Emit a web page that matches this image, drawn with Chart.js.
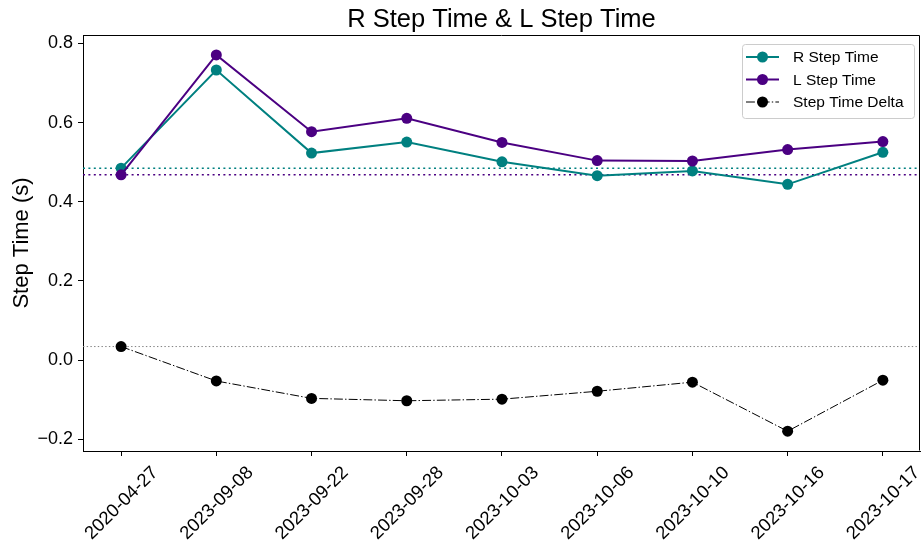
<!DOCTYPE html>
<html>
<head>
<meta charset="utf-8">
<script src="https://cdn.jsdelivr.net/npm/chart.js@4/dist/chart.umd.min.js"></script>
<style>
html,body{margin:0;padding:0;background:#fff;}
#wrap{width:922px;height:544px;}
</style>
</head>
<body>
<div id="wrap"><canvas id="c" width="922" height="544"></canvas></div>
<script>
// ---- data ----
const chartTitle = "R Step Time & L Step Time";
const dates = ["2020-04-27","2023-09-08","2023-09-22","2023-09-28","2023-10-03","2023-10-06","2023-10-10","2023-10-16","2023-10-17"];
const rStepTime = [0.485, 0.733, 0.523, 0.551, 0.501, 0.466, 0.478, 0.444, 0.525];
const lStepTime = [0.468, 0.771, 0.577, 0.611, 0.550, 0.504, 0.503, 0.532, 0.552];
const stepTimeDelta = [0.034, -0.053, -0.097, -0.103, -0.099, -0.079, -0.056, -0.180, -0.051];
const rBaseline = 0.485;
const lBaseline = 0.468;
const deltaBaseline = 0.034;
const yTicks = [-0.2, 0.0, 0.2, 0.4, 0.6, 0.8];
const yRange = [-0.230, 0.8215];
const xRange = [-0.4, 8.39];

const TEAL = "#008080", INDIGO = "#4b0082", BLACK = "#000000";
const FONT = "'Liberation Sans', Arial, Helvetica, sans-serif";
const DASHDOT = [8.9, 2.2, 1.4, 2.2];

Chart.defaults.font.family = FONT;
Chart.defaults.color = "#000";

const toXY = arr => arr.map((v, i) => ({x: i, y: v}));

const refLines = {
  id: "refLines",
  beforeDatasetsDraw(chart) {
    const {ctx, chartArea: a, scales: {y}} = chart;
    const lines = [
      {v: rBaseline, c: TEAL, w: 1.5, d: [2, 3.4]},
      {v: lBaseline, c: INDIGO, w: 1.5, d: [2, 3.4]},
      {v: deltaBaseline, c: "#808080", w: 1, d: [1.4, 2.3]}
    ];
    ctx.save();
    for (const l of lines) {
      const py = y.getPixelForValue(l.v);
      ctx.beginPath();
      ctx.setLineDash(l.d);
      ctx.strokeStyle = l.c;
      ctx.lineWidth = l.w;
      ctx.moveTo(a.left, py);
      ctx.lineTo(a.right, py);
      ctx.stroke();
    }
    ctx.restore();
  }
};

const frameTitleLegend = {
  id: "frameTitleLegend",
  afterDraw(chart) {
    const {ctx, chartArea: a} = chart;
    ctx.save();
    ctx.strokeStyle = "#000";
    ctx.lineWidth = 1;
    ctx.setLineDash([]);
    const L = Math.round(a.left) + 0.5, R = Math.round(a.right) - 0.5;
    const T = Math.round(a.top) + 0.5, B = Math.round(a.bottom) - 0.5;
    ctx.beginPath();
    ctx.moveTo(L, T); ctx.lineTo(R, T); ctx.lineTo(R, B);
    ctx.stroke();

    // title centred over the plot area
    ctx.font = "25.5px " + FONT;
    ctx.fillStyle = "#000";
    ctx.textAlign = "center";
    ctx.textBaseline = "alphabetic";
    ctx.fillText(chartTitle, (a.left + a.right) / 2, a.top - 8);

    // legend
    const w = 172, h = 74;
    const bx = a.right - 6 - w, by = a.top + 9;
    ctx.beginPath();
    ctx.roundRect(bx + 0.5, by + 0.5, w, h, 3);
    ctx.fillStyle = "rgba(255,255,255,0.8)";
    ctx.fill();
    ctx.strokeStyle = "#cccccc";
    ctx.stroke();
    ctx.font = "15.5px " + FONT;
    ctx.textBaseline = "middle";
    ctx.textAlign = "left";
    chart.data.datasets.forEach((ds, i) => {
      const ry = by + 13 + i * 22.5;
      const x0 = bx + 4, x1 = bx + 37, xm = (x0 + x1) / 2;
      ctx.beginPath();
      ctx.setLineDash(ds.borderDash || []);
      ctx.strokeStyle = ds.borderColor;
      ctx.lineWidth = ds.borderWidth;
      ctx.moveTo(x0, ry); ctx.lineTo(x1, ry);
      ctx.stroke();
      ctx.setLineDash([]);
      ctx.beginPath();
      ctx.arc(xm, ry, ds.pointRadius, 0, Math.PI * 2);
      ctx.fillStyle = ds.pointBackgroundColor;
      ctx.fill();
      ctx.fillStyle = "#000";
      ctx.fillText(ds.label, bx + 51, ry + 1);
    });
    ctx.restore();
  }
};

new Chart(document.getElementById("c"), {
  type: "line",
  data: {
    datasets: [
      {label: "R Step Time", data: toXY(rStepTime), borderColor: TEAL, backgroundColor: TEAL,
       pointBackgroundColor: TEAL, pointBorderColor: TEAL, borderWidth: 2, pointRadius: 5.5, pointBorderWidth: 0, order: 3},
      {label: "L Step Time", data: toXY(lStepTime), borderColor: INDIGO, backgroundColor: INDIGO,
       pointBackgroundColor: INDIGO, pointBorderColor: INDIGO, borderWidth: 2, pointRadius: 5.5, pointBorderWidth: 0, order: 2},
      {label: "Step Time Delta", data: toXY(stepTimeDelta), borderColor: BLACK, backgroundColor: BLACK,
       pointBackgroundColor: BLACK, pointBorderColor: BLACK, borderWidth: 1, borderDash: DASHDOT, pointRadius: 5.5, pointBorderWidth: 0, order: 1}
    ]
  },
  options: {
    responsive: false,
    animation: false,
    devicePixelRatio: 1,
    layout: {autoPadding: false, padding: {left: 0, right: 2, top: 35, bottom: 0}},
    plugins: {
      legend: {display: false},
      tooltip: {enabled: false},
      title: {display: false}
    },
    scales: {
      x: {
        type: "linear", min: xRange[0], max: xRange[1],
        afterBuildTicks: s => { s.ticks = dates.map((d, i) => ({value: i})); },
        afterFit: s => { s.height = 93; s.paddingLeft = 0; s.paddingRight = 0; },
        ticks: {autoSkip: false, minRotation: 45, maxRotation: 45, labelOffset: 34, padding: 6,
                font: {size: 18.5}, color: "#000",
                callback: v => dates[v]},
        grid: {drawOnChartArea: false, drawTicks: true, tickLength: 5, color: "#000", tickColor: "#000"},
        border: {display: true, color: "#000", width: 1}
      },
      y: {
        type: "linear", min: yRange[0], max: yRange[1],
        afterBuildTicks: s => { s.ticks = yTicks.map(v => ({value: v})); },
        afterFit: s => { s.width = 83; s.paddingTop = 0; s.paddingBottom = 0; },
        ticks: {font: {size: 18}, color: "#000", padding: 5,
                callback: v => (v < 0 ? "\u2212" : "") + Math.abs(v).toFixed(1)},
        grid: {drawOnChartArea: false, drawTicks: true, tickLength: 5, color: "#000", tickColor: "#000"},
        border: {display: true, color: "#000", width: 1},
        title: {display: true, text: "Step Time (s)", color: "#000", font: {size: 22}, padding: {top: 9, bottom: 0}}
      }
    }
  },
  plugins: [refLines, frameTitleLegend]
});
</script>
</body>
</html>
